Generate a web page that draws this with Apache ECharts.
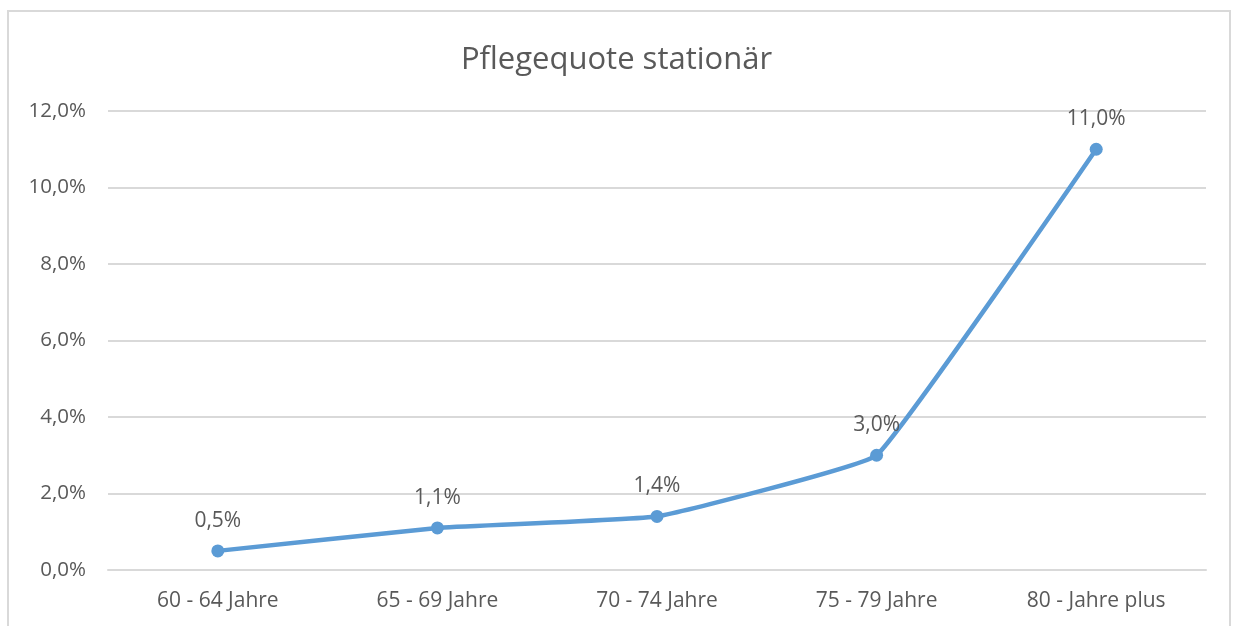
<!DOCTYPE html>
<html>
<head>
<meta charset="utf-8">
<script src="https://cdn.jsdelivr.net/npm/echarts@6/dist/echarts.min.js"></script>
<style>
  html, body { margin: 0; padding: 0; background: #fff; }
  #Grf { width: 1233px; height: 626px; }
</style>
</head>
<body>
<div id="Grf"></div>
<script>
const kategorien = ['60 - 64 Jahre', '65 - 69 Jahre', '70 - 74 Jahre', '75 - 79 Jahre', '80 - Jahre plus'];
const quote = [0.5, 1.1, 1.4, 3.0, 11.0];
const yTicks = [0, 2, 4, 6, 8, 10, 12];

const fmt = (v)=>{
    return v.toFixed(1).replace('.', ',') + '%';
}

const getOption = ()=>{
    return {
        animation: false,
        graphic: [
          {
            type: 'rect',
            shape: { x: 8, y: 11, width: 1222, height: 640 },
            style: { fill: 'none', stroke: '#d9d9d9', lineWidth: 2 }
          }
        ],
        title: {
          text: 'Pflegequote stationär',
          left: 'center',
          top: 40,
          textStyle: {
            fontFamily: 'Open Sans',
            fontSize: 31,
            fontWeight: 'normal',
            color: '#595959'
          }
        },
        grid: {
          left: 108,
          right: 27,
          top: 111,
          bottom: 56
        },
        xAxis: {
          type: 'category',
          data: kategorien,
          axisLine: { lineStyle: { color: '#d9d9d9', width: 2 } },
          axisTick: { show: false },
          axisLabel: {
            margin: 21,
            fontFamily: 'Open Sans',
            fontSize: 21,
            color: '#595959'
          }
        },
        yAxis: {
          type: 'value',
          min: yTicks[0],
          max: yTicks[yTicks.length - 1],
          interval: 2,
          axisLine: { show: false },
          axisTick: { show: false },
          splitLine: { lineStyle: { color: '#d9d9d9', width: 2 } },
          axisLabel: {
            margin: 22,
            fontFamily: 'Open Sans',
            fontSize: 20.5,
            color: '#595959',
            formatter: (v)=> fmt(v)
          }
        },
        series: [
          {
            type: 'line',
            data: quote,
            smooth: 0.08,
            symbol: 'circle',
            symbolSize: 13,
            lineStyle: { color: '#5b9bd5', width: 4.5 },
            itemStyle: { color: '#5b9bd5' },
            label: {
              show: true,
              position: 'top',
              distance: 13,
              fontFamily: 'Open Sans',
              fontSize: 21,
              color: '#595959',
              formatter: (p)=> fmt(p.value)
            }
          }
        ]
      };
}

const initCharts = ()=>{
    const grafica = echarts.init(document.querySelector('#Grf'));
    grafica.setOption(getOption());
}

initCharts();
</script>
</body>
</html>
